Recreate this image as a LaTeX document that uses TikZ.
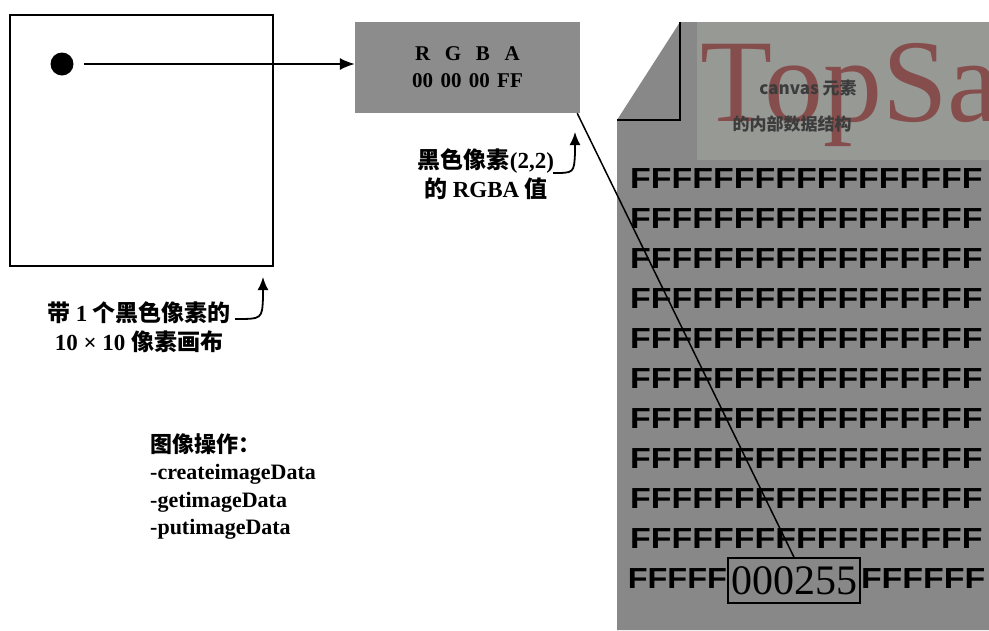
\documentclass[tikz,border=0pt]{standalone}
\usepackage{fontspec}
\setmainfont{Liberation Serif}
\newfontfamily\cjk{Noto Sans CJK SC}
\newfontfamily\fsans{Liberation Sans}
\usetikzlibrary{arrows.meta}
\newcommand{\Ch}[1]{{\cjk #1}}
\definecolor{paper}{HTML}{888888}
\definecolor{headergray}{HTML}{979995}
\definecolor{boxgray}{HTML}{8C8C8C}
\definecolor{wmred}{HTML}{7E2F2F}
\definecolor{headtext}{HTML}{3C3C3C}
\begin{document}
\begin{tikzpicture}[x=1pt,y=-1pt,
  lbl/.style={font=\bfseries\fontsize{23}{29}\selectfont, align=center, inner sep=0},
  ops/.style={font=\bfseries\fontsize{22}{27.5}\selectfont, align=left, inner sep=0},
  frow/.style={font=\fsans\bfseries\fontsize{29}{29}\selectfont, inner sep=0, anchor=base west},
  frowe/.style={font=\fsans\bfseries\fontsize{29}{29}\selectfont, inner sep=0, anchor=base east},
  curvarrow/.style={line width=1.8, -{Latex[length=13pt,width=11pt]}},
  mainarrow/.style={line width=1.6, -{Latex[length=15pt,width=12pt]}}]
\useasboundingbox (0,0) rectangle (989,630);
\fill[white] (0,0) rectangle (989,630);

% canvas square and black pixel
\node[draw, line width=2, minimum width=263, minimum height=251, inner sep=0] (canvas) at (141.5,140.5) {};
\node[circle, fill=black, minimum size=23, inner sep=0] (dot) at (62,64) {};

% RGBA box
\node[fill=boxgray, minimum width=225, minimum height=91, inner sep=0, align=center,
      font=\bfseries\fontsize{21}{27}\selectfont] (rgba) at (467.5,67.5)
      {R\hspace{0.7em}G\hspace{0.7em}B\hspace{0.7em}A\\00\hspace{0.35em}00\hspace{0.35em}00\hspace{0.35em}FF};
\draw[mainarrow] ([xshift=10pt]dot.east) -- (rgba.west |- dot.east);

% document page
\fill[paper] (617,120) -- (680,22) -- (989,22) -- (989,630) -- (617,630) -- cycle;
\fill[headergray] (697,22) rectangle (989,160);
\draw[line width=2.6] (680,22) -- (680,120) -- (617,120);
\begin{scope}
\clip (617,22) rectangle (989,630);
\node[font=\fontsize{118}{118}\selectfont, text=wmred, opacity=0.7, inner sep=0, anchor=base west] (wm) at (700,121) {TopSa};
\end{scope}
\node[font=\cjk\bfseries\fontsize{17}{20}\selectfont, text=headtext, inner sep=0] (head1) at (808,88) {canvas 元素};
\node[font=\cjk\bfseries\fontsize{17}{20}\selectfont, text=headtext, inner sep=0] (head2) at (792,124) {的内部数据结构};

% rows of F
\foreach \i in {0,...,9}{
  \node[frow] (row\i) at (630,{188+40*\i}) {\scalebox{1.17}[1]{FFFFFFFFFFFFFFFFF}};
}
\node[draw, line width=1.6, minimum width=132, minimum height=45, inner sep=0,
      font=\fontsize{42}{42}\selectfont] (val) at (794,580.5) {000255};
\node[frowe] (rowL) at (val.west |- 0,588) {\scalebox{1.12}[1]{FFFFF}};
\node[frow] (rowR) at (val.east |- 0,588) {\scalebox{1.17}[1]{FFFFFF}};
\draw[line width=1.5] ([xshift=-3pt]rgba.south east) -- (val.north);

% labels
\node[lbl] (lblcanvas) at (139,327.5) {\Ch{带} 1 \Ch{个黑色像素的}\\10 × 10 \Ch{像素画布}};
\coordinate (c1s) at (235,319);
\coordinate (c1e) at (263,277);
\draw[curvarrow] (c1s) .. controls (262,319) .. (263,298) -- (c1e);

\node[lbl] (lblrgba) at (486,174) {\Ch{黑色像素}(2,2)\\\Ch{的} RGBA \Ch{值}};
\coordinate (c2s) at (553,173);
\coordinate (c2e) at (575,132);
\draw[curvarrow] (c2s) .. controls (574,173) .. (575,153) -- (c2e);

\node[ops, anchor=north west] (opslist) at (150,433)
  {\Ch{图像操作：}\\-createimageData\\-getimageData\\-putimageData};
\end{tikzpicture}
\end{document}
